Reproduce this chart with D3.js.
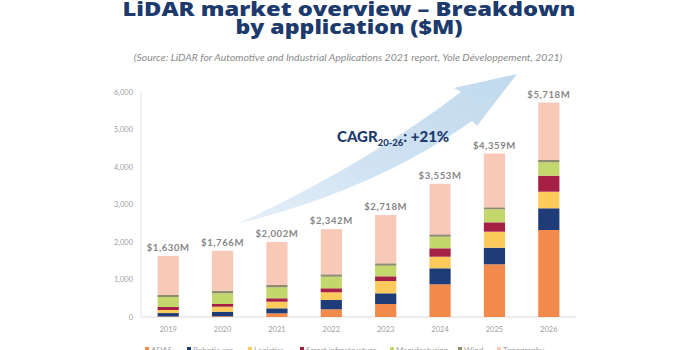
<!DOCTYPE html>
<html>
<head>
<meta charset="utf-8">
<script src="https://cdn.jsdelivr.net/npm/d3@7"></script>
<style>
  body { margin: 0; background: #fff; }
  svg { display: block; font-family: Lato, "Open Sans", sans-serif; }
</style>
</head>
<body>
<svg id="chart"></svg>
<script>
const years = ["2019", "2020", "2021", "2022", "2023", "2024", "2025", "2026"];
const seriesNames = ["ADAS", "Robotic car", "Logistics", "Smart infrastructure", "Manufacturing", "Wind", "Topography"];
const seriesColors = ["#f28a4c", "#1e3d78", "#fccb5c", "#a61f45", "#c3d76c", "#8f8c6e", "#f9c9b8"];

const adas = [15, 20, 99, 205, 347, 872, 1405, 2320];
const roboticCar = [90, 121, 133, 248, 285, 427, 443, 579];
const logistics = [82, 134, 176, 206, 328, 309, 427, 442];
const smartInfra = [80, 72, 91, 106, 125, 224, 250, 427];
const manufacturing = [266, 285, 293, 310, 283, 309, 347, 357];
const wind = [54, 69, 61, 64, 64, 64, 53, 62];
const topography = [1043, 1065, 1149, 1203, 1286, 1348, 1434, 1531];

const yTicks = [0, 1000, 2000, 3000, 4000, 5000, 6000];

const width = 700;
const height = 350;
const margin = { top: 92, right: 124, bottom: 33, left: 141 };

const seriesValues = [adas, roboticCar, logistics, smartInfra, manufacturing, wind, topography];
const data = years.map((y, i) => {
  const row = { year: y };
  seriesNames.forEach((k, j) => (row[k] = seriesValues[j][i]));
  return row;
});

const svg = d3.select("#chart").attr("width", width).attr("height", height);

// scale a text's font-size so it spans the given width
const fitWidth = (sel, target) => {
  const fs = +sel.attr("font-size");
  const w = sel.node().getComputedTextLength();
  if (w > 0) sel.attr("font-size", (fs * target) / w);
  return +sel.attr("font-size");
};

const xScale = d3
  .scaleBand()
  .domain(years)
  .range([margin.left, width - margin.right])
  .paddingInner(0.61)
  .paddingOuter(0.305);

const yScale = d3
  .scaleLinear()
  .domain([0, 6000])
  .range([height - margin.bottom, margin.top]);

const colorScale = d3.scaleOrdinal().domain(seriesNames).range(seriesColors);

// title block (the slide font is wide, so each line is stretched to its width)
svg
  .selectAll(".titleLabel")
  .data([
    { text: "LiDAR market overview – Breakdown", y: 16, w: 453 },
    { text: "by application ($M)", y: 34, w: 227 },
  ])
  .join("text")
  .attr("class", "titleLabel")
  .attr("x", 349)
  .attr("y", (d) => d.y)
  .attr("text-anchor", "middle")
  .attr("fill", "#1d3a6c")
  .attr("font-family", "'Open Sans', sans-serif")
  .attr("font-size", 19.5)
  .attr("font-weight", 800)
  .attr("textLength", (d) => d.w)
  .attr("lengthAdjust", "spacingAndGlyphs")
  .text((d) => d.text);

const subtitle = svg
  .append("text")
  .attr("x", 348)
  .attr("y", 61)
  .attr("text-anchor", "middle")
  .attr("fill", "#8a8a8a")
  .attr("font-size", 9)
  .attr("font-style", "italic")
  .text("(Source: LiDAR for Automotive and Industrial Applications 2021 report, Yole Développement, 2021)");
fitWidth(subtitle, 429);

// growth arrow
const defs = svg.append("defs");
const grad = defs
  .append("linearGradient")
  .attr("id", "arrowGrad")
  .attr("x1", "0%").attr("y1", "100%")
  .attr("x2", "100%").attr("y2", "0%");
grad.append("stop").attr("offset", "0%").attr("stop-color", "#e6f0f8");
grad.append("stop").attr("offset", "45%").attr("stop-color", "#cfe2f2");
grad.append("stop").attr("offset", "100%").attr("stop-color", "#c1daee");

const arrow = d3.path();
arrow.moveTo(237, 224);
arrow.quadraticCurveTo(365, 165, 461, 92);
arrow.lineTo(454, 88);
arrow.lineTo(517, 74);
arrow.lineTo(477, 126);
arrow.lineTo(472, 121);
arrow.quadraticCurveTo(375, 190, 237, 224);
arrow.closePath();

svg.append("path").attr("d", arrow.toString()).attr("fill", "url(#arrowGrad)");

// axes
svg
  .append("line")
  .attr("x1", margin.left)
  .attr("x2", margin.left)
  .attr("y1", yScale(6000))
  .attr("y2", yScale(0))
  .attr("stroke", "#e3e3e3");

svg
  .append("line")
  .attr("x1", margin.left)
  .attr("x2", width - margin.right)
  .attr("y1", yScale(0))
  .attr("y2", yScale(0))
  .attr("stroke", "#dcdcdc");

svg
  .append("g")
  .selectAll("text")
  .data(yTicks)
  .join("text")
  .attr("x", 133)
  .attr("y", (d) => yScale(d))
  .attr("dy", "0.35em")
  .attr("text-anchor", "end")
  .attr("fill", "#a0a0a0")
  .attr("font-size", 7.5)
  .text((d) => d3.format(",")(d));

svg
  .append("g")
  .selectAll("text")
  .data(years)
  .join("text")
  .attr("x", (d) => xScale(d) + xScale.bandwidth() / 2)
  .attr("y", 332)
  .attr("text-anchor", "middle")
  .attr("fill", "#a0a0a0")
  .attr("font-size", 7.5)
  .text((d) => d);

// stacked bars
const stackedData = d3.stack().keys(seriesNames)(data);

svg
  .append("g")
  .selectAll("g")
  .data(stackedData)
  .join("g")
  .attr("fill", (d) => colorScale(d.key))
  .selectAll("rect")
  .data((d) => d)
  .join("rect")
  .attr("x", (d) => xScale(d.data.year))
  .attr("y", (d) => yScale(d[1]))
  .attr("height", (d) => yScale(d[0]) - yScale(d[1]))
  .attr("width", xScale.bandwidth());

// totals above bars
svg
  .append("g")
  .selectAll("text")
  .data(data)
  .join("text")
  .attr("x", (d) => xScale(d.year) + xScale.bandwidth() / 2)
  .attr("y", (d) => yScale(d3.sum(seriesNames, (k) => d[k])) - 5)
  .attr("text-anchor", "middle")
  .attr("fill", "#858585")
  .attr("font-size", 9.5)
  .attr("font-weight", 700)
  .attr("letter-spacing", 0.6)
  .text((d) => "$" + d3.format(",")(d3.sum(seriesNames, (k) => d[k])) + "M");

// CAGR note
const cagr = svg
  .append("text")
  .attr("x", 337)
  .attr("y", 142)
  .attr("fill", "#1d3a6c")
  .attr("font-size", 15)
  .attr("font-weight", 900);
cagr.append("tspan").text("CAGR");
cagr.append("tspan").attr("font-size", 9.5).attr("dy", 4).text("20-26");
cagr.append("tspan").attr("dy", -4).text(": +21%");

// legend (cut by the bottom edge, as in the source slide)
const legendX = [145, 187, 248, 300, 390, 458, 497];
const legend = svg
  .append("g")
  .selectAll("g")
  .data(seriesNames)
  .join("g")
  .attr("transform", (d, i) => `translate(${legendX[i]}, 347)`);

legend
  .append("rect")
  .attr("width", 4)
  .attr("height", 4)
  .attr("fill", (d) => colorScale(d));

legend
  .append("text")
  .attr("x", 6)
  .attr("y", 6)
  .attr("fill", "#a0a0a0")
  .attr("font-size", 8)
  .text((d) => d);
</script>
</body>
</html>
